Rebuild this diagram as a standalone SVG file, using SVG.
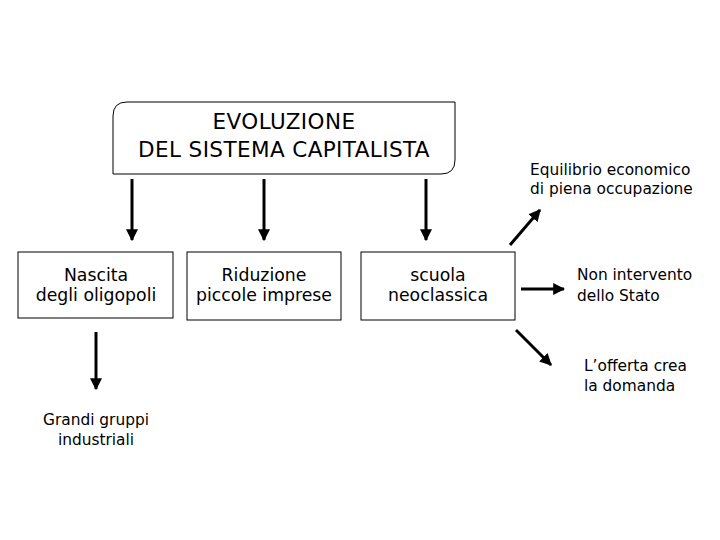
<svg xmlns="http://www.w3.org/2000/svg" width="720" height="540" viewBox="0 0 720 540">
<style>
.t{font-family:"DejaVu Sans","Liberation Sans",sans-serif;fill:#000}
.b{font-size:17.3px;text-anchor:middle}
.s{font-size:15.4px}
.box{fill:#fff;stroke:#000;stroke-width:1}
.c{stroke:#000;stroke-width:3;fill:none}
</style>
<defs>
<marker id="ah" viewBox="0 0 10 10" refX="9" refY="5" markerWidth="4" markerHeight="4" orient="auto" markerUnits="strokeWidth">
<path d="M0,0 L10,5 L0,10 Z" fill="#000"/>
</marker>
</defs>
<rect width="720" height="540" fill="#fff"/>
<g id="title">
<path class="box" d="M127,102 L455,102 L455,160 Q455,174 441,174 L113,174 L113,116 Q113,102 127,102 Z"/>
<text class="t" x="284" y="129" font-size="21.5" text-anchor="middle" letter-spacing="0.4">EVOLUZIONE</text>
<text class="t" x="284" y="157" font-size="21.5" text-anchor="middle" letter-spacing="0.4">DEL SISTEMA CAPITALISTA</text>
</g>
<g id="nascita">
<rect class="box" x="18" y="252" width="155" height="66"/>
<text class="t b" x="96" y="281">Nascita</text>
<text class="t b" x="96" y="301">degli oligopoli</text>
</g>
<g id="riduzione">
<rect class="box" x="187" y="252" width="154" height="68"/>
<text class="t b" x="264" y="281">Riduzione</text>
<text class="t b" x="264" y="301">piccole imprese</text>
</g>
<g id="scuola">
<rect class="box" x="361" y="252" width="154" height="68"/>
<text class="t b" x="438" y="281">scuola</text>
<text class="t b" x="438" y="301">neoclassica</text>
</g>
<g id="equilibrio">
<text class="t s" x="530" y="175">Equilibrio economico</text>
<text class="t s" x="530" y="194">di piena occupazione</text>
</g>
<g id="nonintervento">
<text class="t s" x="577" y="280">Non intervento</text>
<text class="t s" x="577" y="301">dello Stato</text>
</g>
<g id="offerta">
<text class="t s" x="584" y="371">L’offerta crea</text>
<text class="t s" x="584" y="391">la domanda</text>
</g>
<g id="grandi">
<text class="t s" x="96" y="425" text-anchor="middle">Grandi gruppi</text>
<text class="t s" x="96" y="445" text-anchor="middle">industriali</text>
</g>
<g id="connectors">
<line class="c" x1="132" y1="179" x2="132" y2="240" marker-end="url(#ah)"/>
<line class="c" x1="264" y1="179" x2="264" y2="240" marker-end="url(#ah)"/>
<line class="c" x1="426" y1="179" x2="426" y2="240" marker-end="url(#ah)"/>
<line class="c" x1="510" y1="245" x2="540" y2="210" marker-end="url(#ah)"/>
<line class="c" x1="521" y1="289" x2="564" y2="289" marker-end="url(#ah)"/>
<line class="c" x1="516" y1="330" x2="551" y2="365" marker-end="url(#ah)"/>
<line class="c" x1="96" y1="332" x2="96" y2="389" marker-end="url(#ah)"/>
</g>
</svg>
